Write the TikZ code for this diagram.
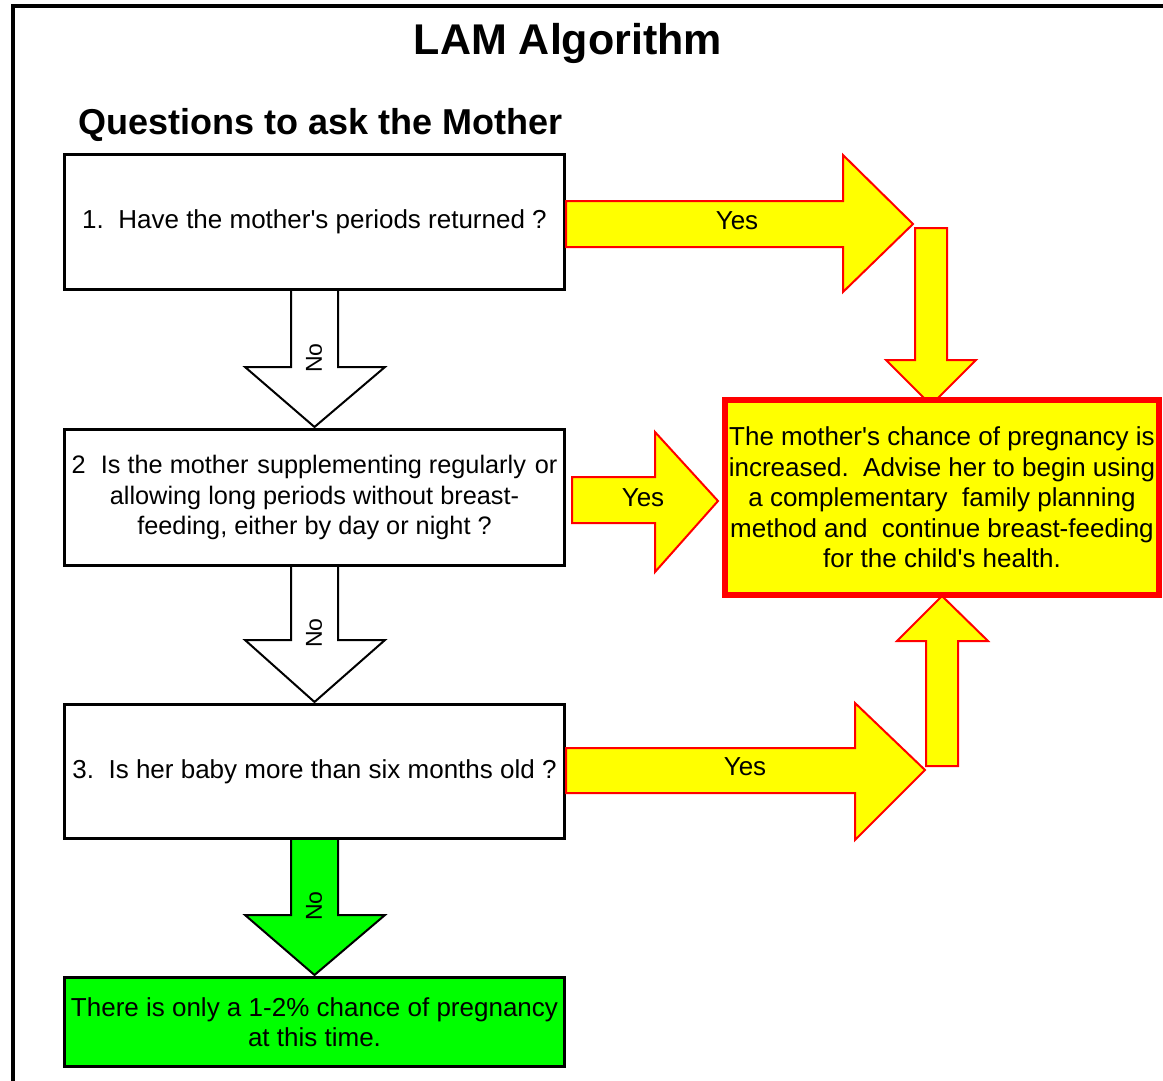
\documentclass[tikz,border=0pt]{standalone}
\usepackage{fontspec}
\setmainfont{Liberation Sans}
\usetikzlibrary{calc}
\definecolor{ylw}{RGB}{255,255,0}
\definecolor{rd}{RGB}{255,0,0}
\definecolor{grn}{RGB}{0,255,0}
\newcommand{\apos}{\textquotesingle}
\tikzset{
  qbox/.style={draw=black, line width=3pt, fill=white, minimum width=500pt, inner sep=0pt, align=center,
    font=\fontsize{26}{30.5}\selectfont},
  ansbox/.style={qbox, fill=grn},
  resbox/.style={draw=rd, line width=6pt, fill=ylw, minimum width=434pt, minimum height=195pt, inner sep=0pt,
    align=center, font=\fontsize{26}{30.5}\selectfont},
  yesarr/.style={draw=rd, line width=2pt, fill=ylw, line join=miter},
  noarr/.style={draw=black, line width=2pt, fill=white, line join=miter},
  noarrg/.style={noarr, fill=grn},
  lbl/.style={font=\fontsize{26}{30}\selectfont, inner sep=0pt},
  nolbl/.style={font=\fontsize{23}{28}\selectfont, inner sep=0pt, rotate=90},
}
\begin{document}
\begin{tikzpicture}[x=1pt,y=-1pt]
\useasboundingbox (0,0) rectangle (1163,1081);
% outer frame
\draw[line width=3.5pt] (13,1081) -- (13,6) -- (1163,6);
% titles
\node[font=\fontsize{43}{50}\bfseries\selectfont, anchor=base, inner sep=0pt] (title) at (568,55) {LAM Algorithm};
\node[font=\fontsize{36}{42}\bfseries\selectfont, anchor=base, inner sep=0pt] (sub) at (320.5,135) {Questions to ask the Mother};

% question boxes
\node[qbox, minimum height=135pt] (q1) at (314.5,222) {1.\ \ Have the mother\apos s periods returned ?};
\node[qbox, minimum height=136pt, font=\fontsize{25.3}{30.5}\selectfont] (q2) at (314.5,497.5) {2\hspace{0.6em}Is the mother\hspace{0.35em}supplementing regularly\hspace{0.35em}or\\allowing long periods without breast-\\feeding, either by day or night ?};
\node[qbox, minimum height=134pt] (q3) at (314.5,771.5) {3.\ \ Is her baby more than six months old ?};
\node[ansbox, minimum height=89pt] (ans) at (314.5,1022) {There is only a 1-2\% chance of pregnancy\\at this time.};

% No arrows
\draw[noarr] ($(q1.south)+(-23.5,0)$) -- ($(q1.south)+(-23.5,76)$) -- ($(q1.south)+(-69.5,76)$) -- ($(q2.north)+(0,-1)$)
  -- ($(q1.south)+(70.5,76)$) -- ($(q1.south)+(23.5,76)$) -- ($(q1.south)+(23.5,0)$);
\draw[noarr] ($(q2.south)+(-23.5,0)$) -- ($(q2.south)+(-23.5,73)$) -- ($(q2.south)+(-69.5,73)$) -- ($(q3.north)+(0,-1)$)
  -- ($(q2.south)+(70.5,73)$) -- ($(q2.south)+(23.5,73)$) -- ($(q2.south)+(23.5,0)$);
\draw[noarrg] ($(q3.south)+(-23.5,0)$) -- ($(q3.south)+(-23.5,75)$) -- ($(q3.south)+(-69.5,75)$) -- ($(ans.north)+(0,-1)$)
  -- ($(q3.south)+(70.5,75)$) -- ($(q3.south)+(23.5,75)$) -- ($(q3.south)+(23.5,0)$);
\node[nolbl] (no1) at (314,358) {No};
\node[nolbl] (no2) at (314,633) {No};
\node[nolbl] (no3) at (314,906) {No};

% arrow tip coordinates
\coordinate (t1) at (913,224);
\coordinate (t3) at (925,770);

% Yes arrows
\draw[yesarr] ($(q1.east)+(0,-21)$) -- (843,201) -- (843,155) -- (t1) -- (843,292) -- (843,247) -- ($(q1.east)+(0,25)$) -- cycle;
\draw[yesarr] (915,228) -- (947,228) -- (947,360) -- (976,360) -- (931,405) -- (886,360) -- (915,360) -- cycle;
\draw[yesarr] (572,477) -- (655,477) -- (655,432) -- (718,501) -- (655,572) -- (655,523) -- (572,523) -- cycle;
\draw[yesarr] ($(q3.east)+(0,-23.5)$) -- (855,748) -- (855,703) -- (t3) -- (855,840) -- (855,793) -- ($(q3.east)+(0,21.5)$) -- cycle;
\draw[yesarr] (926,766) -- (926,641) -- (897,641) -- (942,596) -- (988,641) -- (958,641) -- (958,766) -- cycle;
\node[lbl] (y1) at (737,221) {Yes};
\node[lbl] (y2) at (643,498) {Yes};
\node[lbl] (y3) at (745,767) {Yes};

% result box
\node[resbox] (res) at (942,497.5) {The mother\apos s chance of pregnancy is\\increased.\ \ Advise her to begin using\\a complementary\ \ family planning\\method and\ \ continue breast-feeding\\for the child\apos s health.};
\end{tikzpicture}
\end{document}
